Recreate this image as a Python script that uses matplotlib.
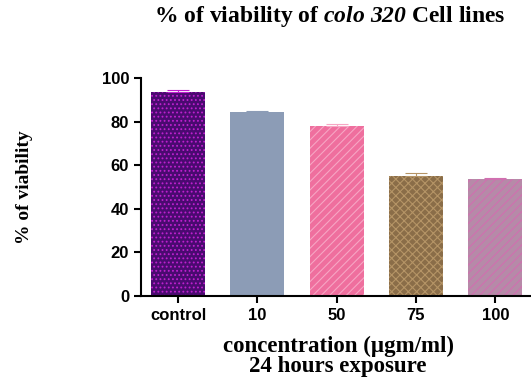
import matplotlib.pyplot as plt

plt.rcParams.update({
    'font.family': 'Liberation Sans',
    'mathtext.fontset': 'custom',
    'mathtext.rm': 'Liberation Serif:italic:bold',
    'mathtext.it': 'Liberation Serif:italic:bold',
    'hatch.linewidth': 0.8,
})

categories = ['control', '10', '50', '75', '100']
viability = [93.8, 84.6, 78.2, 55.0, 53.5]
errors = [0.5, 0.4, 0.5, 1.2, 0.6]

colors = ['#4a0a70', '#8c9cb6', '#ef6f9e', '#8a6d48', '#b68aa8']
hatch_colors = ['#c020d0', '#8c9cb6', '#f7a6c4', '#b59466', '#d070b0']
hatches = ['....', '', '////', 'xxxx', '////']

fig = plt.figure(figsize=(5.31, 3.77), dpi=100)
ax = fig.add_axes([0.2655, 0.215, 0.7345, 0.578])

x = range(len(categories))
for i in x:
    ax.bar(i, viability[i], width=0.68, color=colors[i], edgecolor=hatch_colors[i],
           hatch=hatches[i], linewidth=0, zorder=2)
    ax.errorbar(i, viability[i], yerr=[[0], [errors[i]]], fmt='none',
                ecolor=hatch_colors[i], elinewidth=0.8, capsize=8, capthick=0.8, zorder=3)

ax.set_xlim(-0.467, 4.45)
ax.set_ylim(0, 100)
ax.set_yticks([0, 20, 40, 60, 80, 100])
ax.set_xticks(list(x))
ax.set_xticklabels(categories)
ax.spines['top'].set_visible(False)
ax.spines['right'].set_visible(False)
ax.spines['left'].set_linewidth(1.5)
ax.spines['bottom'].set_linewidth(1.5)
ax.tick_params(axis='both', direction='out', width=1.5, length=5, labelsize=12)
for lbl in ax.get_xticklabels() + ax.get_yticklabels():
    lbl.set_fontweight('bold')

serif = dict(family='Liberation Serif', fontweight='bold')
fig.text(0.62, 0.955, r'% of viability of $\mathrm{colo\ 320}$ Cell lines',
         ha='center', va='center', fontsize=17, **serif)
fig.text(0.047, 0.504, '% of viability', rotation=90, ha='center', va='center',
         fontsize=14, **serif)
fig.text(0.637, 0.082, 'concentration (\u00b5gm/ml)', ha='center', va='center',
         fontsize=16.5, **serif)
fig.text(0.637, 0.027, '24 hours exposure', ha='center', va='center',
         fontsize=16.5, **serif)

fig.savefig('out.png', dpi=100)
